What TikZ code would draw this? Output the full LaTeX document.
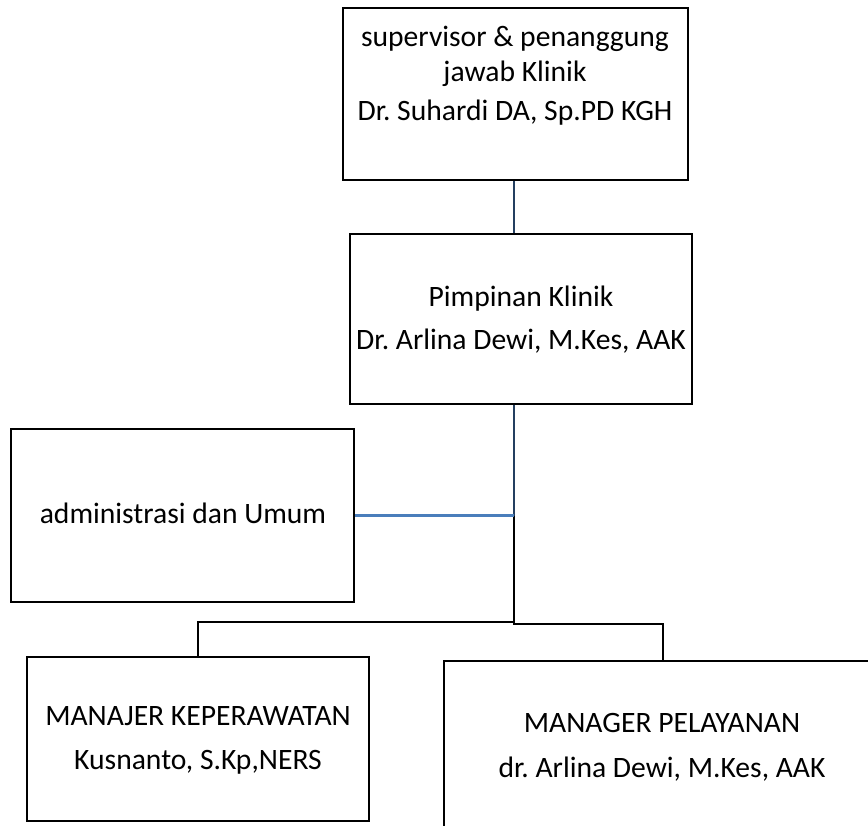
\documentclass[tikz,border=0pt]{standalone}
\usepackage{fontspec}
\setmainfont{Carlito}
\frenchspacing
\definecolor{navyline}{HTML}{243F60}
\definecolor{blueline}{HTML}{4A7EBB}
\begin{document}
\begin{tikzpicture}[x=1pt,y=-1pt,
  box/.style={draw=black,line width=2.4pt,inner sep=0pt},
  conn/.style={line width=1.1pt,draw=black},
  navyconn/.style={line width=1.3pt,draw=navyline},
  blueconn/.style={line width=2.2pt,draw=blueline},
  txt/.style={anchor=base,inner sep=0pt,font=\fontsize{29.6}{34}\selectfont}]
\useasboundingbox (0,0) rectangle (868,826);
\clip (0,0) rectangle (868,826);
% boxes
\node[box,minimum width=345pt,minimum height=172pt] (sup) at (515.5,94) {};
\node[box,minimum width=342pt,minimum height=170pt] (pim) at (521,319) {};
\node[box,minimum width=343pt,minimum height=173pt] (adm) at (182.5,515.5) {};
\node[box,minimum width=342pt,minimum height=164pt] (kep) at (198,739) {};
\node[box,minimum width=566pt,minimum height=239pt] (pel) at (727,780.5) {};
% helper coordinates
\coordinate (spine) at (514,0);
\coordinate (fork) at (514,622);
\coordinate (forkR) at (514,624);
\coordinate (pelin) at (663,0);
% connectors
\draw[navyconn] (spine |- sup.south) -- (spine |- pim.north);
\draw[navyconn] (spine |- pim.south) -- (spine |- adm.east);
\draw[conn] (spine |- adm.east) -- (fork);
\draw[blueconn] (adm.east) -- (spine |- adm.east);
\draw[conn] (fork) -| (kep.north);
\draw[conn] (fork) -- (forkR) -| (pelin |- pel.north);
% texts
\node[txt] (t1) at (515,47) {supervisor \& penanggung};
\node[txt] (t2) at (515,82) {jawab Klinik};
\node[txt] (t3) at (515,121) {Dr. Suhardi DA, Sp.PD KGH};
\node[txt] (t4) at (521,307) {Pimpinan Klinik};
\node[txt] (t5) at (521,350) {Dr. Arlina Dewi, M.Kes, AAK};
\node[txt] (t6) at (183,523) {administrasi dan Umum};
\node[txt] (t7) at (198,725) {MANAJER KEPERAWATAN};
\node[txt] (t8) at (198,769) {Kusnanto, S.Kp,NERS};
\node[txt] (t9) at (662,732) {MANAGER PELAYANAN};
\node[txt] (t10) at (662,777) {dr. Arlina Dewi, M.Kes, AAK};
\end{tikzpicture}
\end{document}
